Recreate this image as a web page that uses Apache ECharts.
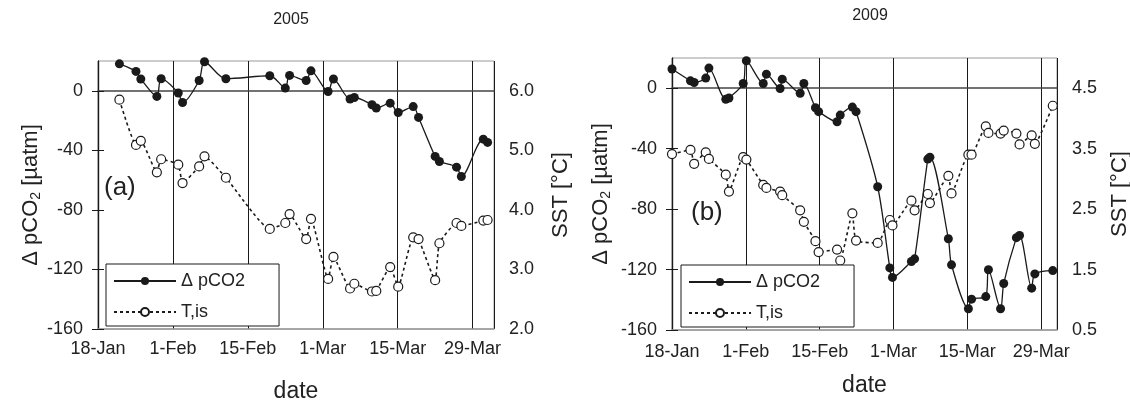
<!DOCTYPE html>
<html>
<head>
<meta charset="utf-8">
<script src="https://cdn.jsdelivr.net/npm/echarts@6/dist/echarts.min.js"></script>
<style>html,body{margin:0;padding:0;background:#fff;}#c{width:1130px;height:400px;}</style>
</head>
<body>
<div id="c"></div>
<script>
// ---- data ----
const tickDays = [0, 14, 28, 42, 56, 70];
const tickLabels = ['18-Jan', '1-Feb', '15-Feb', '1-Mar', '15-Mar', '29-Mar'];
const leftTicks = [-160, -120, -80, -40, 0];
const rightTicksA = [2, 3, 4, 5, 6];
const rightTicksB = [0.5, 1.5, 2.5, 3.5, 4.5];

// 2005 (days since 18-Jan)
const daysA = [4.0, 7.1, 8.0, 11.0, 11.8, 15.0, 15.8, 18.9, 19.9, 23.9, 32.1, 35.0, 35.8, 38.9, 39.8, 43.0, 44.0, 47.1, 47.9, 51.2, 52.0, 54.6, 56.1, 58.9, 59.9, 63.0, 63.8, 67.0, 67.9, 72.0, 72.8];
const pco2A = [18.1, 13.0, 7.9, -3.8, 8.1, -1.5, -7.9, 6.9, 19.5, 8.1, 10.1, 1.8, 10.3, 6.9, 13.4, -0.5, 7.9, -5.6, -4.5, -9.4, -11.6, -8.3, -14.6, -10.6, -17.9, -44.1, -47.5, -51.3, -57.6, -32.5, -34.7];
const sstA = [5.85, 5.09, 5.16, 4.63, 4.85, 4.76, 4.45, 4.73, 4.90, 4.54, 3.68, 3.78, 3.93, 3.51, 3.85, 2.84, 3.21, 2.68, 2.76, 2.63, 2.64, 3.04, 2.71, 3.54, 3.51, 2.82, 3.44, 3.78, 3.73, 3.82, 3.83];

// 2009 (days since 18-Jan)
const daysB = [0.0, 3.5, 4.2, 6.4, 7.0, 10.2, 10.8, 13.5, 14.1, 17.3, 17.9, 20.5, 20.9, 24.3, 25.0, 27.2, 27.8, 31.3, 31.9, 34.2, 34.9, 39.0, 41.3, 41.8, 45.4, 46.0, 48.5, 48.9, 52.4, 53.0, 56.2, 56.8, 59.5, 60.0, 62.3, 62.9, 65.3, 65.9, 68.2, 68.8, 72.2];
const pco2B = [12.7, 4.9, 3.8, 6.7, 13.3, -7.3, -6.5, 3.1, 18.2, 3.1, 9.3, -0.2, 6.0, -3.3, 3.1, -12.9, -15.5, -22.2, -17.8, -12.5, -15.5, -65.2, -118.9, -125.2, -114.7, -112.9, -46.9, -45.6, -99.6, -116.9, -145.9, -139.6, -137.9, -120.1, -145.9, -129.2, -98.9, -97.4, -132.3, -122.9, -120.7];
const sstB = [3.41, 3.48, 3.25, 3.44, 3.33, 3.07, 2.79, 3.36, 3.32, 2.90, 2.85, 2.79, 2.73, 2.48, 2.29, 1.97, 1.79, 1.83, 1.65, 2.43, 1.98, 1.94, 2.32, 2.23, 2.64, 2.48, 2.75, 2.60, 3.05, 2.76, 3.40, 3.40, 3.87, 3.76, 3.75, 3.80, 3.75, 3.57, 3.72, 3.58, 4.21];

const seriesNames = ['Δ pCO2', 'T,is'];
const panelTitles = ['2005', '2009'];
const panelTags = ['(a)', '(b)'];

// ---- chart ----
const FONT = "'Liberation Sans', Arial, Helvetica, sans-serif";
const INK = '#1a1a1a';
const TXT = '#222';
const zip = (xs, ys) => xs.map((x, i) => [x, ys[i]]);
const xFmt = v => { const i = tickDays.indexOf(v); return i >= 0 ? tickLabels[i] : ''; };

function xAxes(grid, max, labelMargin, nameGap) {
  return [
    {
      type: 'value', gridIndex: grid, min: 0, max: max, interval: 14, position: 'bottom',
      axisLine: { onZero: false, lineStyle: { color: '#999', width: 1.5 } },
      axisTick: { show: false },
      axisLabel: { formatter: xFmt, fontSize: 18, color: TXT, fontFamily: FONT, margin: labelMargin, showMaxLabel: true },
      splitLine: { show: true, lineStyle: { color: INK, width: 1 } },
      name: 'date', nameLocation: 'middle', nameGap: nameGap,
      nameTextStyle: { fontSize: 23, color: TXT, fontFamily: FONT }
    },
    {
      type: 'value', gridIndex: grid, min: 0, max: max, position: 'bottom',
      axisLine: { show: true, onZero: true, onZeroAxisIndex: grid * 2, lineStyle: { color: '#444', width: 1.5 } },
      axisTick: { show: false }, axisLabel: { show: false }, splitLine: { show: false }
    }
  ];
}

function yAxes(grid, rMin, rMax, rTicks, leftGap, rightGap) {
  return [
    {
      type: 'value', gridIndex: grid, position: 'left', min: -160, max: 20,
      axisLine: { show: true, lineStyle: { color: INK, width: 1.2 } },
      axisTick: { show: true, inside: false, length: 6, lineStyle: { color: INK }, customValues: leftTicks },
      axisLabel: { customValues: leftTicks, fontSize: 18, color: TXT, fontFamily: FONT, margin: 15 },
      splitLine: { show: false },
      name: 'Δ pCO{s|2} [µatm]', nameLocation: 'middle', nameGap: leftGap,
      nameTextStyle: {
        fontSize: 22, color: TXT, fontFamily: FONT,
        rich: { s: { fontSize: 14, color: TXT, fontFamily: FONT, verticalAlign: 'bottom', padding: [11, 0, 0, 0] } }
      }
    },
    {
      type: 'value', gridIndex: grid, position: 'right', min: rMin, max: rMax,
      axisLine: { show: true, lineStyle: { color: INK, width: 1.2 } },
      axisTick: { show: true, inside: false, length: 6, lineStyle: { color: INK }, customValues: rTicks },
      axisLabel: { customValues: rTicks, formatter: v => Number(v).toFixed(1), fontSize: 18, color: TXT, fontFamily: FONT, margin: 15 },
      splitLine: { show: false },
      name: 'SST [°C]', nameLocation: 'middle', nameGap: rightGap,
      nameTextStyle: { fontSize: 22, color: TXT, fontFamily: FONT }
    }
  ];
}

function series(grid, days, pco2, sst) {
  return [
    {
      type: 'line', name: seriesNames[1], xAxisIndex: grid * 2, yAxisIndex: grid * 2 + 1,
      data: zip(days, sst), symbol: 'circle', symbolSize: 9, smooth: 0.15,
      itemStyle: { color: '#fff', borderColor: INK, borderWidth: 1.2 },
      lineStyle: { color: INK, width: 1.6, type: [3, 3] },
      z: 3
    },
    {
      type: 'line', name: seriesNames[0], xAxisIndex: grid * 2, yAxisIndex: grid * 2,
      data: zip(days, pco2), symbol: 'circle', symbolSize: 9, smooth: 0.3,
      itemStyle: { color: INK, borderColor: INK, borderWidth: 0 },
      lineStyle: { color: INK, width: 1.3 },
      z: 4
    }
  ];
}

function legend(left, top) {
  return {
    left: left, top: top, orient: 'vertical', itemWidth: 62, itemHeight: 10, itemGap: 13,
    borderColor: INK, borderWidth: 1, backgroundColor: '#fff', padding: [8, 34, 5, 7],
    textStyle: { fontSize: 18, color: TXT, fontFamily: FONT },
    data: seriesNames, selectedMode: false
  };
}

const gridBase = { show: true, borderColor: '#999', borderWidth: 1, backgroundColor: 'transparent', containLabel: false, outerBoundsMode: 'none' };

const chart = echarts.init(document.getElementById('c'), null, { renderer: 'canvas' });
chart.setOption({
  animation: false,
  backgroundColor: '#fff',
  grid: [
    Object.assign({ left: 98, top: 61, width: 396, height: 268 }, gridBase),
    Object.assign({ left: 672, top: 58, width: 385, height: 272 }, gridBase)
  ],
  xAxis: [...xAxes(0, 74, 11, 51), ...xAxes(1, 73, 13, 44)],
  yAxis: [...yAxes(0, 2, 6.5, rightTicksA, 54, 56), ...yAxes(1, 0.5, 5.0, rightTicksB, 59, 52)],
  legend: [legend(106, 264), legend(681, 265)],
  series: [...series(0, daysA, pco2A, sstA), ...series(1, daysB, pco2B, sstB)],
  graphic: [
    { type: 'text', x: 291, y: 20, style: { text: panelTitles[0], fontSize: 16, fill: TXT, fontFamily: FONT, align: 'center', verticalAlign: 'middle' } },
    { type: 'text', x: 870, y: 16, style: { text: panelTitles[1], fontSize: 16, fill: TXT, fontFamily: FONT, align: 'center', verticalAlign: 'middle' } },
    { type: 'text', x: 104, y: 188, style: { text: panelTags[0], fontSize: 26, fill: TXT, fontFamily: FONT, align: 'left', verticalAlign: 'middle' } },
    { type: 'text', x: 691, y: 213, style: { text: panelTags[1], fontSize: 26, fill: TXT, fontFamily: FONT, align: 'left', verticalAlign: 'middle' } }
  ]
});
</script>
</body>
</html>
